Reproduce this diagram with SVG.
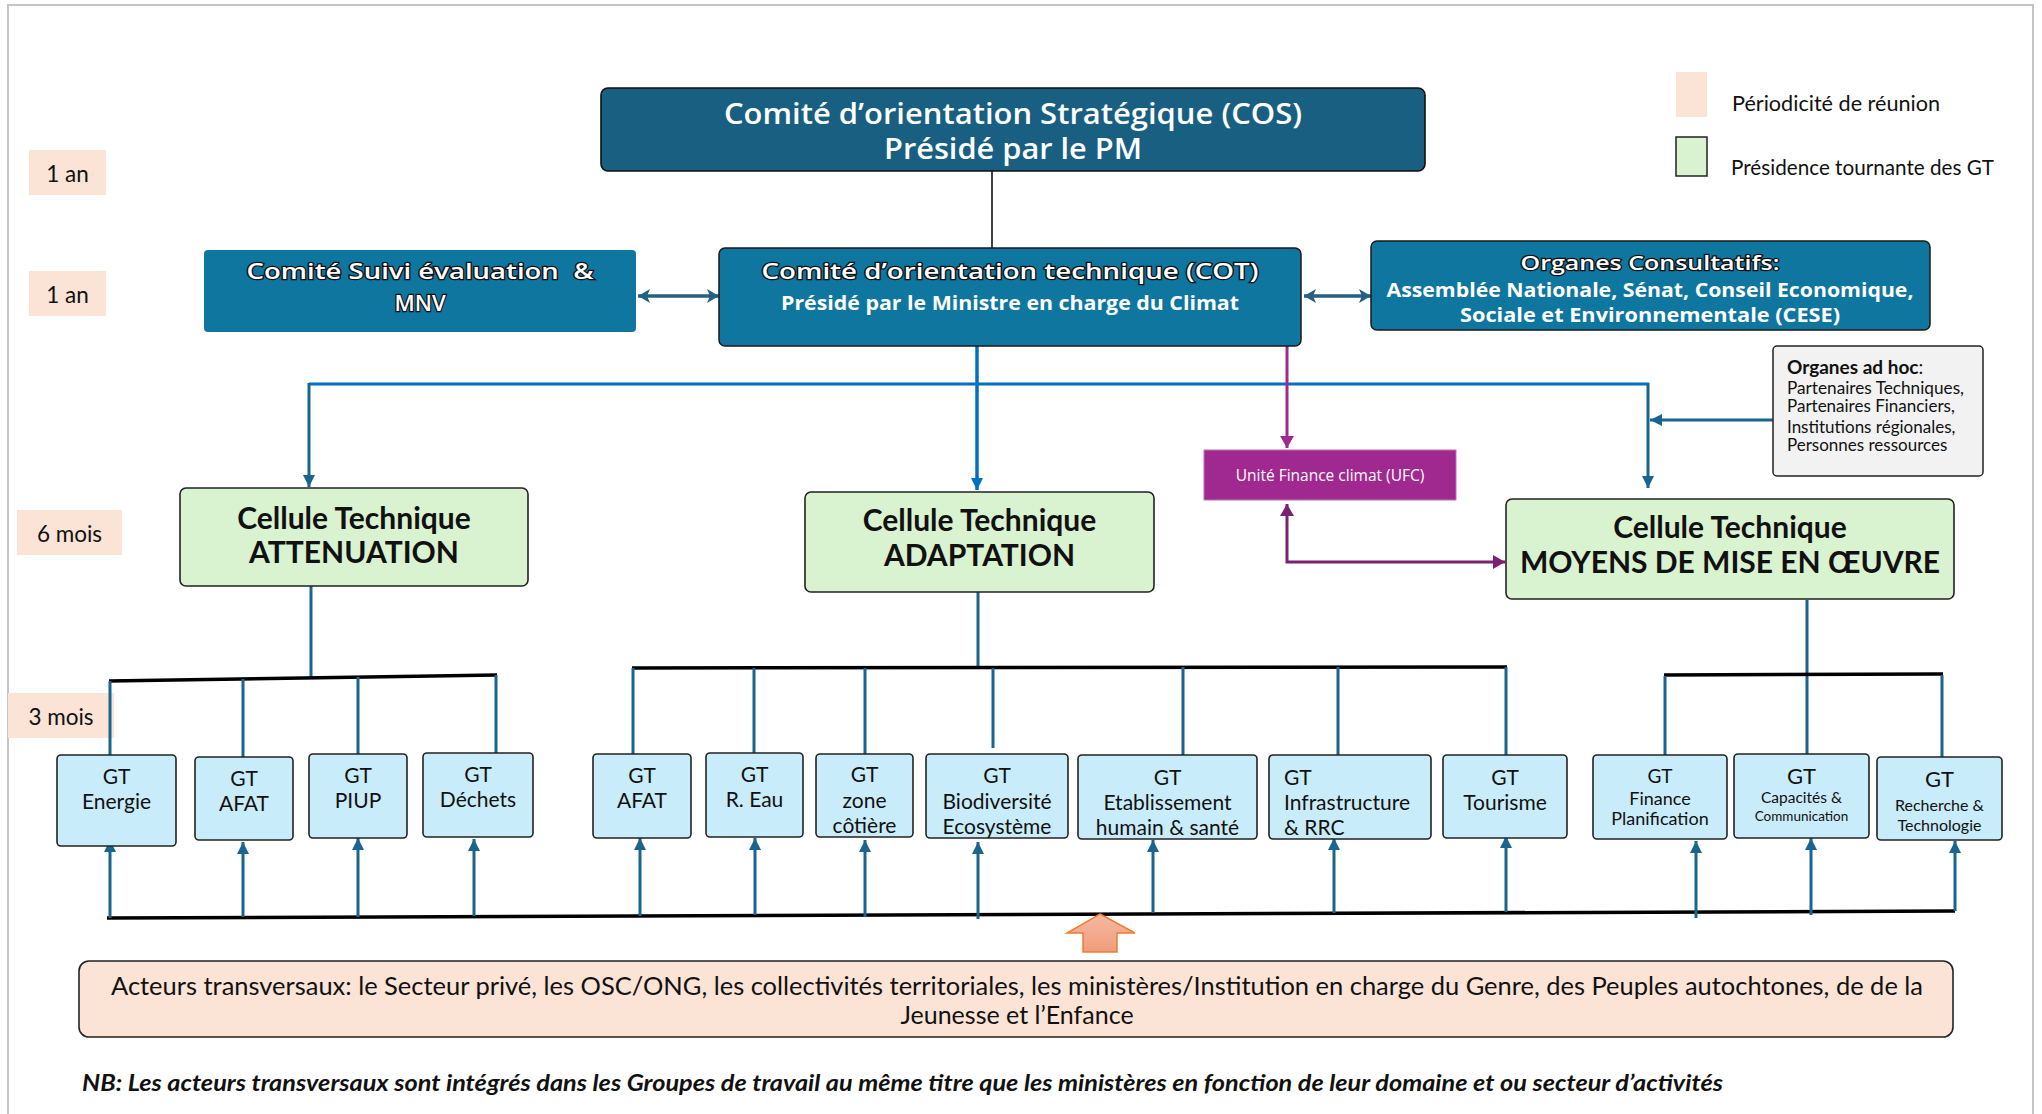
<svg xmlns="http://www.w3.org/2000/svg" width="2042" height="1114" viewBox="0 0 2042 1114">
<defs>
<style>
.lato{font-family:Lato,"Liberation Sans",sans-serif;fill:#111}
.mont{font-family:"Open Sans","Liberation Sans",sans-serif;fill:#fff}
.outl{font-family:"Open Sans","Liberation Sans",sans-serif;fill:#fff;stroke:#111;stroke-width:2.4;paint-order:stroke;font-weight:600}
.per{fill:#fbe3d6}
.blue{fill:#0f76a0;stroke:#1a1a1a;stroke-width:1.5}
.cell{fill:#d9f2d0;stroke:#222;stroke-width:1.6}
.gt{fill:#c9ecfa;stroke:#222;stroke-width:1.6}
.teal{stroke:#1a6490;stroke-width:3;fill:none}
.bar{stroke:#000;stroke-width:3.5;fill:none}
.c{text-anchor:middle;dominant-baseline:central}
.l{dominant-baseline:central}
</style>
<marker id="mTeal" markerUnits="userSpaceOnUse" markerWidth="12" markerHeight="12" refX="12" refY="6" orient="auto-start-reverse"><path d="M0,0 L12,6 L0,12 z" fill="#1a6490"/></marker>
<marker id="mNavy" markerUnits="userSpaceOnUse" markerWidth="12" markerHeight="14" refX="12" refY="7" orient="auto-start-reverse"><path d="M0,0 L12,7 L0,14 L3,7 z" fill="#236083"/></marker>
<marker id="mBlue" markerUnits="userSpaceOnUse" markerWidth="12" markerHeight="12" refX="12" refY="6" orient="auto-start-reverse"><path d="M0,0 L12,6 L0,12 z" fill="#0070c0"/></marker>
<marker id="mPurple" markerUnits="userSpaceOnUse" markerWidth="12" markerHeight="14" refX="12" refY="7" orient="auto-start-reverse"><path d="M0,0 L12,7 L0,14 z" fill="#a0298f"/></marker>
<marker id="mPurple2" markerUnits="userSpaceOnUse" markerWidth="12" markerHeight="14" refX="12" refY="7" orient="auto-start-reverse"><path d="M0,0 L12,7 L0,14 z" fill="#7b2073"/></marker>
<linearGradient id="gOr" x1="0" y1="0" x2="0" y2="1"><stop offset="0" stop-color="#f5b9a3"/><stop offset="1" stop-color="#f19c7b"/></linearGradient>
</defs>

<rect x="0" y="0" width="2042" height="1114" fill="#fff"/>
<rect x="8" y="5" width="2025" height="1125" fill="#fff" stroke="#c4c4c4" stroke-width="2"/>

<!-- periodicity labels -->
<g id="per1"><rect class="per" x="29" y="150" width="77" height="45"/><text class="lato c" x="67.5" y="173" font-size="22.5">1 an</text></g>
<g id="per2"><rect class="per" x="29" y="271" width="77" height="45"/><text class="lato c" x="67.5" y="294" font-size="22.5">1 an</text></g>
<g id="per3"><rect class="per" x="17" y="510" width="105" height="45"/><text class="lato c" x="69.5" y="533" font-size="22.5">6 mois</text></g>
<g id="per4"><rect class="per" x="8" y="693" width="106" height="45"/><text class="lato c" x="61" y="716" font-size="22.5">3 mois</text></g>

<!-- legend -->
<g id="legend">
<rect x="1676" y="72" width="31" height="45" fill="#fbe3d6"/>
<text class="lato l" x="1732" y="102" font-size="21" textLength="208" lengthAdjust="spacingAndGlyphs">Périodicité de réunion</text>
<rect x="1676" y="137" width="31" height="39" fill="#d9f2d0" stroke="#222" stroke-width="1.5"/>
<text class="lato l" x="1731" y="166" font-size="21" textLength="263" lengthAdjust="spacingAndGlyphs">Présidence tournante des GT</text>
</g>

<!-- connectors -->
<g id="connectors">
<line x1="992" y1="171" x2="992" y2="248" stroke="#111" stroke-width="1.6"/>
<line x1="638" y1="296" x2="719" y2="296" stroke="#236083" stroke-width="3.5" marker-start="url(#mNavy)" marker-end="url(#mNavy)"/>
<line x1="1304" y1="296" x2="1371" y2="296" stroke="#236083" stroke-width="3.5" marker-start="url(#mNavy)" marker-end="url(#mNavy)"/>
<line x1="309" y1="384" x2="1649" y2="384" stroke="#0070c0" stroke-width="3"/>
<line x1="977" y1="346" x2="977" y2="490" stroke="#0070c0" stroke-width="3.5" marker-end="url(#mBlue)"/>
<line x1="309" y1="383" x2="309" y2="487" class="teal" stroke-width="2.5" marker-end="url(#mTeal)"/>
<line x1="1648" y1="383" x2="1648" y2="488" class="teal" stroke-width="2.5" marker-end="url(#mTeal)"/>
<line x1="1773" y1="420" x2="1650" y2="420" class="teal" stroke-width="3.5" marker-end="url(#mTeal)"/>
<line x1="1287" y1="346" x2="1287" y2="448" stroke="#a0298f" stroke-width="3" marker-end="url(#mPurple)"/>
<path d="M1287,504 V562 H1505" fill="none" stroke="#7b2073" stroke-width="3" marker-start="url(#mPurple2)" marker-end="url(#mPurple2)"/>

<!-- attenuation tree -->
<line x1="311" y1="586" x2="311" y2="678" class="teal"/>
<line x1="109" y1="681" x2="497" y2="675" class="bar"/>
<line x1="110" y1="681" x2="110" y2="755" class="teal"/>
<line x1="243" y1="679" x2="243" y2="757" class="teal"/>
<line x1="358" y1="677" x2="358" y2="754" class="teal"/>
<line x1="496" y1="675" x2="496" y2="753" class="teal"/>

<!-- adaptation tree -->
<line x1="978" y1="592" x2="978" y2="668" class="teal"/>
<line x1="632" y1="668" x2="1507" y2="667" class="bar"/>
<line x1="633" y1="668" x2="633" y2="754" class="teal"/>
<line x1="754" y1="668" x2="754" y2="753" class="teal"/>
<line x1="865" y1="668" x2="865" y2="754" class="teal"/>
<line x1="993" y1="668" x2="993" y2="748" class="teal"/>
<line x1="1183" y1="667" x2="1183" y2="755" class="teal"/>
<line x1="1338" y1="667" x2="1338" y2="755" class="teal"/>
<line x1="1506" y1="667" x2="1506" y2="755" class="teal"/>

<!-- moyens tree -->
<line x1="1807" y1="600" x2="1807" y2="754" class="teal"/>
<line x1="1664" y1="675" x2="1943" y2="674" class="bar"/>
<line x1="1665" y1="676" x2="1665" y2="755" class="teal"/>
<line x1="1942" y1="675" x2="1942" y2="757" class="teal"/>

<!-- bottom bar and arrows -->
<line x1="107" y1="918" x2="1955" y2="911" class="bar"/>
<line x1="110" y1="918" x2="110" y2="840" class="teal" marker-end="url(#mTeal)"/>
<line x1="243" y1="917" x2="243" y2="842" class="teal" marker-end="url(#mTeal)"/>
<line x1="358" y1="917" x2="358" y2="838" class="teal" marker-end="url(#mTeal)"/>
<line x1="474" y1="916" x2="474" y2="839" class="teal" marker-end="url(#mTeal)"/>
<line x1="640" y1="916" x2="640" y2="838" class="teal" marker-end="url(#mTeal)"/>
<line x1="755" y1="915" x2="755" y2="838" class="teal" marker-end="url(#mTeal)"/>
<line x1="865" y1="917" x2="865" y2="840" class="teal" marker-end="url(#mTeal)"/>
<line x1="978" y1="919" x2="978" y2="842" class="teal" marker-end="url(#mTeal)"/>
<line x1="1153" y1="913" x2="1153" y2="840" class="teal" marker-end="url(#mTeal)"/>
<line x1="1334" y1="913" x2="1334" y2="838" class="teal" marker-end="url(#mTeal)"/>
<line x1="1506" y1="912" x2="1506" y2="836" class="teal" marker-end="url(#mTeal)"/>
<line x1="1696" y1="918" x2="1696" y2="841" class="teal" marker-end="url(#mTeal)"/>
<line x1="1811" y1="915" x2="1811" y2="838" class="teal" marker-end="url(#mTeal)"/>
<line x1="1955" y1="911" x2="1955" y2="841" class="teal" marker-end="url(#mTeal)"/>
</g>

<!-- top committees -->
<g id="cos">
<rect x="601" y="88" width="824" height="83" rx="7" fill="#185f82" stroke="#111" stroke-width="1.6"/>
<text class="mont c" x="1013" y="112" font-size="29" font-weight="600" textLength="578" lengthAdjust="spacingAndGlyphs">Comité d’orientation Stratégique (COS)</text>
<text class="mont c" x="1013" y="147" font-size="29" font-weight="600" textLength="258" lengthAdjust="spacingAndGlyphs">Présidé par le PM</text>
</g>
<g id="cse">
<rect x="204" y="250" width="432" height="82" rx="4" fill="#0f76a0"/>
<text class="outl c" x="420" y="270" font-size="22" textLength="347" lengthAdjust="spacingAndGlyphs">Comité Suivi évaluation&#160; &amp;</text>
<text class="outl c" x="420" y="302" font-size="22">MNV</text>
</g>
<g id="cot">
<rect class="blue" x="719" y="248" width="582" height="98" rx="6"/>
<text class="outl c" x="1010" y="270" font-size="22" textLength="497" lengthAdjust="spacingAndGlyphs">Comité d’orientation technique (COT)</text>
<text class="mont c" x="1010" y="302" font-size="20" font-weight="700" textLength="458" lengthAdjust="spacingAndGlyphs">Présidé par le Ministre en charge du Climat</text>
</g>
<g id="oc">
<rect class="blue" x="1371" y="241" width="559" height="89" rx="6"/>
<text class="outl c" x="1650" y="262" font-size="20" textLength="259" lengthAdjust="spacingAndGlyphs">Organes Consultatifs:</text>
<text class="mont c" x="1650" y="289" font-size="20" font-weight="700" textLength="527" lengthAdjust="spacingAndGlyphs">Assemblée Nationale, Sénat, Conseil Economique,</text>
<text class="mont c" x="1650" y="314" font-size="20" font-weight="700" textLength="380" lengthAdjust="spacingAndGlyphs">Sociale et Environnementale (CESE)</text>
</g>

<g id="adhoc">
<rect x="1773" y="346" width="210" height="130" rx="4" fill="#f2f2f2" stroke="#222" stroke-width="1.5"/>
<text class="lato l" x="1787" y="366" font-size="19" font-weight="700">Organes ad hoc<tspan font-weight="400">:</tspan></text>
<text class="lato l" x="1787" y="387" font-size="17" textLength="177" lengthAdjust="spacingAndGlyphs">Partenaires Techniques,</text>
<text class="lato l" x="1787" y="405" font-size="17">Partenaires Financiers,</text>
<text class="lato l" x="1787" y="426" font-size="17">Institutions régionales,</text>
<text class="lato l" x="1787" y="444" font-size="17">Personnes ressources</text>
</g>

<g id="ufc">
<rect x="1204" y="450" width="252" height="50" fill="#a0298f" stroke="#c070b8" stroke-width="1"/>
<text class="c" x="1330" y="475" font-size="15.5" fill="#fff" font-family="'Open Sans','Liberation Sans',sans-serif">Unité Finance climat (UFC)</text>
</g>

<!-- cellules -->
<g id="att">
<rect class="cell" x="180" y="488" width="348" height="98" rx="6"/>
<text class="lato c" x="354" y="517" font-size="30" font-weight="700">Cellule Technique</text>
<text class="lato c" x="354" y="551" font-size="30" font-weight="700">ATTENUATION</text>
</g>
<g id="ada">
<rect class="cell" x="805" y="492" width="349" height="100" rx="6"/>
<text class="lato c" x="979.5" y="519" font-size="30" font-weight="700">Cellule Technique</text>
<text class="lato c" x="979.5" y="554" font-size="30" font-weight="700">ADAPTATION</text>
</g>
<g id="mmo">
<rect class="cell" x="1506" y="499" width="448" height="100" rx="6"/>
<text class="lato c" x="1730" y="526" font-size="30" font-weight="700">Cellule Technique</text>
<text class="lato c" x="1730" y="561" font-size="30" font-weight="700">MOYENS DE MISE EN ŒUVRE</text>
</g>

<!-- GT boxes -->
<g id="gt-energie"><rect class="gt" x="57" y="755" width="119" height="91" rx="4"/>
<text class="lato c" x="116.5" y="775" font-size="21">GT</text><text class="lato c" x="116.5" y="800" font-size="21">Energie</text></g>
<g id="gt-afat1"><rect class="gt" x="195" y="757" width="98" height="83" rx="4"/>
<text class="lato c" x="244" y="777" font-size="21">GT</text><text class="lato c" x="244" y="802" font-size="21">AFAT</text></g>
<g id="gt-piup"><rect class="gt" x="309" y="754" width="98" height="84" rx="4"/>
<text class="lato c" x="358" y="774" font-size="21">GT</text><text class="lato c" x="358" y="799" font-size="21">PIUP</text></g>
<g id="gt-dechets"><rect class="gt" x="423" y="753" width="110" height="84" rx="4"/>
<text class="lato c" x="478" y="773" font-size="21">GT</text><text class="lato c" x="478" y="798" font-size="21">Déchets</text></g>
<g id="gt-afat2"><rect class="gt" x="593" y="754" width="98" height="84" rx="4"/>
<text class="lato c" x="642" y="774" font-size="21">GT</text><text class="lato c" x="642" y="799" font-size="21">AFAT</text></g>
<g id="gt-eau"><rect class="gt" x="706" y="753" width="97" height="84" rx="4"/>
<text class="lato c" x="754.5" y="773" font-size="21">GT</text><text class="lato c" x="754.5" y="798" font-size="21">R. Eau</text></g>
<g id="gt-zone"><rect class="gt" x="816" y="754" width="97" height="83" rx="4"/>
<text class="lato c" x="864.5" y="773" font-size="21">GT</text><text class="lato c" x="864.5" y="799" font-size="21">zone</text><text class="lato c" x="864.5" y="824" font-size="21">côtière</text></g>
<g id="gt-bio"><rect class="gt" x="926" y="754" width="142" height="84" rx="4"/>
<text class="lato c" x="997" y="774" font-size="21">GT</text><text class="lato c" x="997" y="800" font-size="21">Biodiversité</text><text class="lato c" x="997" y="825" font-size="21">Ecosystème</text></g>
<g id="gt-etab"><rect class="gt" x="1078" y="755" width="179" height="84" rx="4"/>
<text class="lato c" x="1167.5" y="776" font-size="21">GT</text><text class="lato c" x="1167.5" y="801" font-size="21">Etablissement</text><text class="lato c" x="1167.5" y="826" font-size="21">humain &amp; santé</text></g>
<g id="gt-infra"><rect class="gt" x="1269" y="755" width="162" height="84" rx="4"/>
<text class="lato l" x="1284" y="776" font-size="21">GT</text><text class="lato l" x="1284" y="801" font-size="21">Infrastructure</text><text class="lato l" x="1284" y="826" font-size="21">&amp; RRC</text></g>
<g id="gt-tourisme"><rect class="gt" x="1443" y="755" width="124" height="83" rx="4"/>
<text class="lato c" x="1505" y="776" font-size="21">GT</text><text class="lato c" x="1505" y="801" font-size="21">Tourisme</text></g>
<g id="gt-finance"><rect class="gt" x="1593" y="755" width="134" height="84" rx="4"/>
<text class="lato c" x="1660" y="775" font-size="19">GT</text><text class="lato c" x="1660" y="798" font-size="18">Finance</text><text class="lato c" x="1660" y="818" font-size="18">Planification</text></g>
<g id="gt-capa"><rect class="gt" x="1734" y="754" width="135" height="84" rx="4"/>
<text class="lato c" x="1801.5" y="775" font-size="22">GT</text><text class="lato c" x="1801.5" y="797" font-size="15.5">Capacités &amp;</text><text class="lato c" x="1801.5" y="816" font-size="13.5">Communication</text></g>
<g id="gt-rech"><rect class="gt" x="1877" y="757" width="125" height="83" rx="4"/>
<text class="lato c" x="1939.5" y="778" font-size="22">GT</text><text class="lato c" x="1939.5" y="804" font-size="16">Recherche &amp;</text><text class="lato c" x="1939.5" y="824" font-size="16">Technologie</text></g>

<g id="orange-arrow">
<path d="M1100,914 L1135,933 L1117,933 L1117,952 L1083,952 L1083,933 L1067,933 Z" fill="url(#gOr)" stroke="#ed7d31" stroke-width="1.5"/>
</g>

<g id="acteurs">
<rect x="79" y="961" width="1874" height="76" rx="10" fill="#fbe3d6" stroke="#222" stroke-width="1.6"/>
<text class="lato c" x="1017" y="985" font-size="25" textLength="1812" lengthAdjust="spacingAndGlyphs">Acteurs transversaux: le Secteur privé, les OSC/ONG, les collectivités territoriales, les ministères/Institution en charge du Genre, des Peuples autochtones, de de la</text>
<text class="lato c" x="1017" y="1014" font-size="25">Jeunesse et l’Enfance</text>
</g>

<text class="lato l" x="82" y="1082" font-size="22" font-weight="700" font-style="italic" textLength="1641" lengthAdjust="spacingAndGlyphs">NB: Les acteurs transversaux sont intégrés dans les Groupes de travail au même titre que les ministères en fonction de leur domaine et ou secteur d’activités</text>
</svg>
